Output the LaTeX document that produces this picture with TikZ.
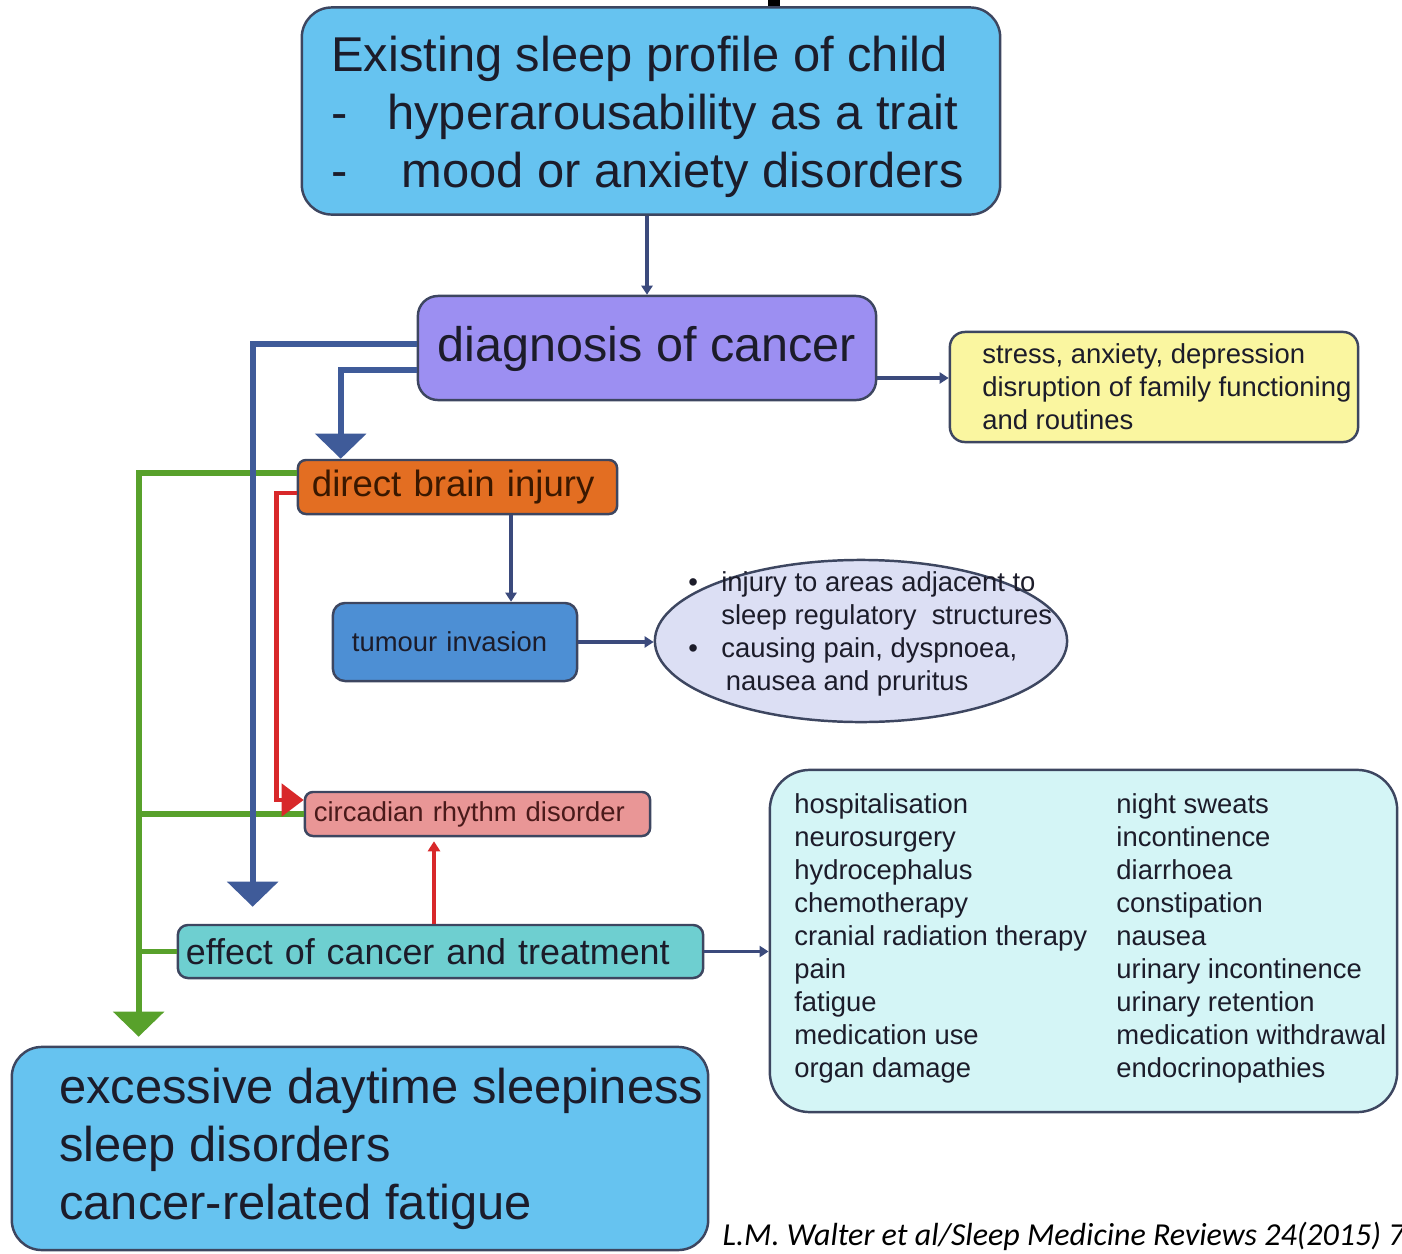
\documentclass[tikz,border=0pt]{standalone}
\usepackage{fontspec}
\setmainfont{Liberation Sans}
\newfontfamily\citefont{Carlito}
\usepackage{tikz}
\usetikzlibrary{arrows.meta, positioning, shapes.geometric, calc}
\definecolor{textdark}{HTML}{1C1C2A}
\definecolor{edge}{HTML}{3D4660}
\definecolor{skybox}{HTML}{66C3F0}
\definecolor{lavender}{HTML}{9C8FF2}
\definecolor{paleyellow}{HTML}{FAF6A0}
\definecolor{brainorange}{HTML}{E36E22}
\definecolor{braintext}{HTML}{3A1800}
\definecolor{tumourblue}{HTML}{4D8FD4}
\definecolor{palelilac}{HTML}{DCDFF4}
\definecolor{circpink}{HTML}{E99696}
\definecolor{circtext}{HTML}{4A1A1A}
\definecolor{tealbox}{HTML}{6ECFD0}
\definecolor{paleaqua}{HTML}{D4F5F6}
\definecolor{navythick}{HTML}{3F5B99}
\definecolor{navythin}{HTML}{3B4A7C}
\definecolor{greenline}{HTML}{58A12B}
\definecolor{redline}{HTML}{D8282A}
\newcommand{\bigtext}{\fontsize{13.9}{16.5}\selectfont}
\newcommand{\midtext}{\fontsize{10.2}{12.3}\selectfont}
\newcommand{\smalltext}{\fontsize{7.8}{9.39}\selectfont}
\tikzset{
  box/.style={draw=edge, line width=0.7pt, rounded corners=#1, inner ysep=0pt},
  box/.default=0.15cm,
  bigarrow/.style={draw=navythick, line width=1.7pt, -{Triangle[width=0.5cm, length=0.25cm]}},
  thinarrow/.style={draw=navythin, line width=1.1pt, -{Triangle[width=0.11cm, length=0.09cm]}},
  greenarrow/.style={draw=greenline, line width=1.7pt, -{Triangle[width=0.5cm, length=0.25cm]}},
  greenbranch/.style={draw=greenline, line width=1.7pt},
  redarrow/.style={draw=redline, line width=1.4pt, -{Triangle[width=0.32cm, length=0.22cm]}},
  redthin/.style={draw=redline, line width=1.1pt, -{Triangle[width=0.12cm, length=0.1cm]}}
}

\begin{document}
\begin{tikzpicture}[x=0.01cm, y=-0.01cm, text=textdark]
  \useasboundingbox (0,0) rectangle (1402,1254);
  % cut-off title at the top edge
  \fill[black] (768,0) rectangle (780,6);

  \node[box=0.3cm, fill=skybox, minimum width=6.98cm, minimum height=2.07cm] (profile) at (651,111) {};
  \node[anchor=west, align=left, font=\bigtext, inner sep=0pt] (profiletext) at ([xshift=0.30cm, yshift=-0.06cm]profile.west)
    {Existing sleep profile of child\\ \makebox[0.56cm][l]{-}hyperarousability as a trait\\ \makebox[0.70cm][l]{-}mood or anxiety disorders};

  \node[box=0.2cm, fill=lavender, minimum width=4.58cm, minimum height=1.04cm, text height=0.95em, text depth=0.21em, font=\fontsize{13.8}{16}\selectfont] (diagnosis) at (647,348) {diagnosis of cancer};

  \node[box, fill=paleyellow, minimum width=4.08cm, minimum height=1.10cm] (stress) at (1154,387) {};
  \node[anchor=west, align=left, font=\smalltext, inner sep=0pt] (stresstext) at ([xshift=0.33cm]stress.west)
    {stress, anxiety, depression\\ disruption of family functioning\\ and routines};

  \node[box=0.08cm, fill=brainorange, minimum width=3.19cm, minimum height=0.54cm, text width=2.91cm, inner xsep=0.14cm, align=left, font=\fontsize{10.4}{12}\selectfont, text=braintext] (direct) at (457.5,487) {direct brain injury};

  \node[box=0.12cm, fill=tumourblue, minimum width=2.44cm, minimum height=0.78cm, text width=2.06cm, inner xsep=0.19cm, align=left, font=\smalltext] (tumour) at (455,642) {tumour invasion};

  \node[ellipse, draw=edge, line width=0.7pt, fill=palelilac, minimum width=4.12cm, minimum height=1.62cm, inner sep=0pt] (injury) at (861,641) {};
  \node[anchor=west, font=\smalltext, inner sep=0pt] (injurytext) at ([xshift=0.34cm, yshift=0.065cm]injury.west)
    {\begin{tabular}{@{}p{0.33cm}@{}l@{}}
      \textbullet & injury to areas adjacent to\\
                  & sleep regulatory\ \ structures\\
      \textbullet & causing pain, dyspnoea,\\
                  & \,nausea and pruritus
    \end{tabular}};

  \node[box=0.08cm, fill=circpink, minimum width=3.45cm, minimum height=0.44cm, text width=3.27cm, inner xsep=0.09cm, align=left, font=\smalltext, text=circtext] (circadian) at (477.5,814) {circadian rhythm disorder};

  \node[box=0.1cm, fill=tealbox, minimum width=5.25cm, minimum height=0.53cm, text width=5.09cm, inner xsep=0.08cm, align=left, font=\midtext] (effect) at (440.5,951.5) {effect of cancer and treatment};

  \node[box=0.4cm, fill=paleaqua, minimum width=6.27cm, minimum height=3.42cm] (effects) at (1083.5,941) {};
  \node[anchor=west, font=\smalltext, inner sep=0pt] (effectslist) at ([xshift=0.25cm, yshift=0.02cm]effects.west)
    {\begin{tabular}{@{}p{3.22cm}@{}l@{}}
      hospitalisation & night sweats\\
      neurosurgery & incontinence\\
      hydrocephalus & diarrhoea\\
      chemotherapy & constipation\\
      cranial radiation therapy & nausea\\
      pain & urinary incontinence\\
      fatigue & urinary retention\\
      medication use & medication withdrawal\\
      organ damage & endocrinopathies
    \end{tabular}};

  \node[box=0.3cm, fill=skybox, minimum width=6.96cm, minimum height=2.03cm] (outcome) at (360,1148.5) {};
  \node[anchor=west, align=left, font=\bigtext, inner sep=0pt] (outcometext) at ([xshift=0.48cm]outcome.west)
    {excessive daytime sleepiness\\ sleep disorders\\ cancer-related fatigue};

  \node[anchor=west, inner sep=0pt, font=\fontsize{9.1}{11}\selectfont\citefont\itshape, text=black] (source) at (722,1236)
    {L.M. Walter et al/Sleep Medicine Reviews 24(2015) 7};

  % green paths into the outcome box
  \coordinate (greentrunk) at ([xshift=1.28cm]outcome.north west);
  \draw[greenarrow, shorten >=0.09cm] ([yshift=0.14cm]direct.west) -| (greentrunk);
  \draw[greenbranch] (circadian.west) -- (circadian.west -| greentrunk);
  \draw[greenbranch] (effect.west) -- (effect.west -| greentrunk);

  % blue paths
  \draw[thinarrow] (profile.south -| diagnosis.north) -- (diagnosis.north);
  \draw[thinarrow] ([yshift=-0.3cm]diagnosis.east) -- ([yshift=-0.3cm]diagnosis.east -| stress.west);
  \draw[bigarrow, shorten >=0.17cm] ([yshift=0.04cm]diagnosis.west) -| ([xshift=0.76cm]effect.north west);
  \draw[bigarrow] ([yshift=-0.22cm]diagnosis.west) -| ([xshift=0.44cm]direct.north west);
  \draw[thinarrow] ([xshift=0.535cm]direct.south) -- ([xshift=0.535cm]direct.south |- tumour.north);
  \draw[thinarrow] (tumour.east) -- (tumour.east -| injury.west);
  \draw[thinarrow] (effect.east) -- (effect.east -| effects.west);

  % red paths into circadian rhythm disorder
  \draw[redarrow] ([yshift=-0.06cm]direct.west) -- ++(-20,0) |- ([yshift=0.14cm]circadian.west);
  \draw[redthin, shorten >=0.04cm] ([xshift=-0.065cm]effect.north) -- ([xshift=-0.065cm]effect.north |- circadian.south);
\end{tikzpicture}
\end{document}
